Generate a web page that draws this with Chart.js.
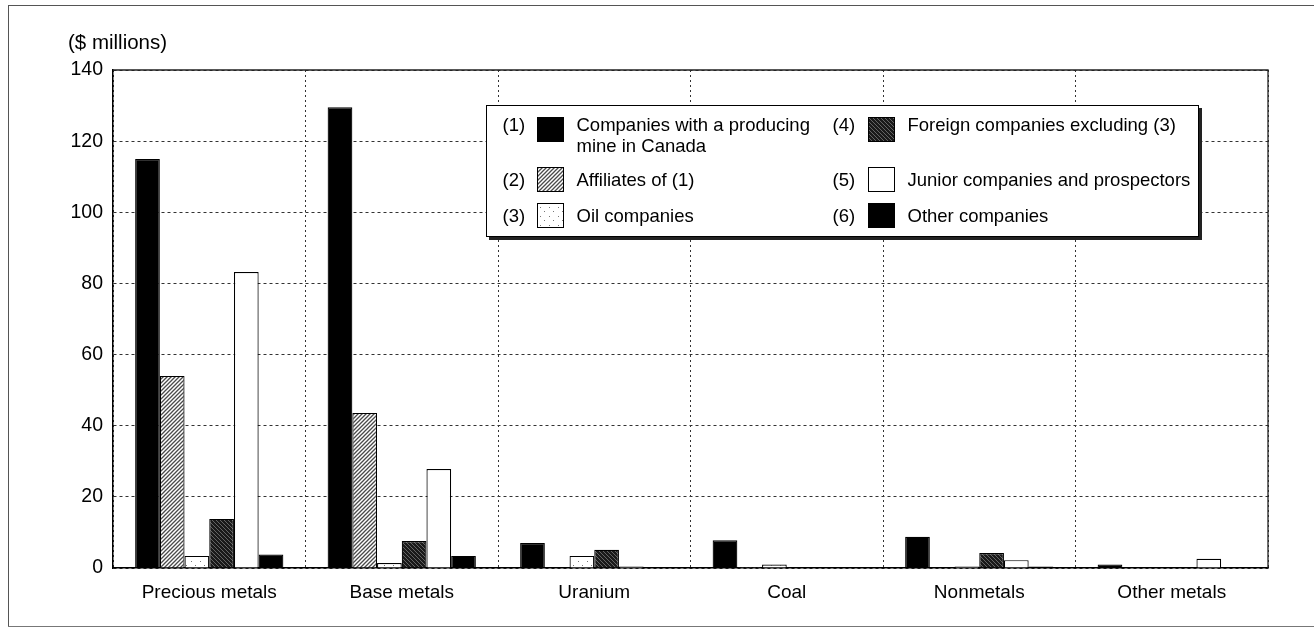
<!DOCTYPE html>
<html><head><meta charset="utf-8">
<script src="https://cdn.jsdelivr.net/npm/chart.js@4"></script>
<style>
html,body{margin:0;padding:0;background:#fff;}
#wrap{position:relative;width:1314px;height:631px;overflow:hidden;font-family:"Liberation Sans",Arial,Helvetica,sans-serif;color:#000;}
#frameT{position:absolute;left:8px;top:5px;width:1306px;height:1px;background:#555;}
#frameL{position:absolute;left:8px;top:5px;width:1px;height:622px;background:#555;}
#frameB{position:absolute;left:8px;top:626px;width:1306px;height:1px;background:#777;}
#c{position:absolute;left:0;top:0;}
#ytitle{position:absolute;left:68px;top:30px;font-size:20.5px;line-height:24px;}
#legend{position:absolute;left:486px;top:105px;width:711px;height:130px;border:1.5px solid #000;background:#fff;box-shadow:3px 3px 0 #222;}
#legend span{position:absolute;font-size:18.5px;line-height:21px;white-space:nowrap;}
#legend canvas{position:absolute;border:1px solid #000;box-sizing:border-box;}
</style></head>
<body>
<div id="wrap">
<canvas id="c" width="1314" height="631"></canvas>
<div id="frameT"></div><div id="frameL"></div><div id="frameB"></div>
<div id="ytitle">($ millions)</div>
<div id="legend"></div>
</div>
<script>
const categories = ['Precious metals','Base metals','Uranium','Coal','Nonmetals','Other metals'];
const producing  = [115, 129.5, 7.0, 7.8, 8.8, 1.0];
const affiliates = [54, 43.6, 0, 0.3, 0, 0];
const oil        = [3.4, 1.4, 3.4, 1.0, 0.4, 0];
const foreign    = [13.8, 7.6, 5.1, 0.2, 4.2, 0];
const junior     = [83.2, 27.8, 0.4, 0.2, 2.2, 2.6];
const other      = [3.8, 3.4, 0, 0.2, 0.4, 0];
const seriesLabels = ['Companies with a producing\nmine in Canada','Affiliates of (1)','Oil companies','Foreign companies excluding (3)','Junior companies and prospectors','Other companies'];
const yTicks = [0,20,40,60,80,100,120,140];

function tile(type){
  const c=document.createElement('canvas'); const s=type==='dots'?9:4;
  c.width=s;c.height=s; const g=c.getContext('2d');
  if(type==='hatch'){
    g.fillStyle='#fff';g.fillRect(0,0,s,s);
    g.strokeStyle='#4a4a4a';g.lineWidth=1.3;
    g.beginPath();g.moveTo(-1,s+1);g.lineTo(s+1,-1);g.moveTo(-1,1);g.lineTo(1,-1);g.moveTo(s-1,s+1);g.lineTo(s+1,s-1);g.stroke();
  } else if(type==='cross'){
    g.fillStyle='#1a1a1a';g.fillRect(0,0,s,s);
    g.strokeStyle='#777';g.lineWidth=0.8;
    g.beginPath();g.moveTo(-1,-1);g.lineTo(s+1,s+1);g.stroke();
  } else if(type==='dots'){
    g.fillStyle='#fff';g.fillRect(0,0,s,s);
    g.fillStyle='#777';g.fillRect(2,3,1,1);g.fillRect(6,7,1,1);
  }
  return c;
}
const ctx=document.getElementById('c').getContext('2d');
const fills=['#000', ctx.createPattern(tile('hatch'),'repeat'), ctx.createPattern(tile('dots'),'repeat'), ctx.createPattern(tile('cross'),'repeat'), '#fff', '#000'];
const tiles=[null,tile('hatch'),tile('dots'),tile('cross'),null,null];
const data=[producing,affiliates,oil,foreign,junior,other];

// legend
const lg=document.getElementById('legend');
const pos=[[0,0],[0,1],[0,2],[1,0],[1,1],[1,2]];
const textTop=[8.2,62.7,98.6];
const swTop=[10.5,60.5,96.5];
pos.forEach((p,i)=>{
  const colX=p[0]?345.5:15.5, swX=p[0]?380.5:49.5, txX=p[0]?420.5:89.5;
  const r=p[1];
  const n=document.createElement('span'); n.textContent='('+(i+1)+')'; n.style.left=colX+'px'; n.style.top=textTop[r]+'px'; lg.appendChild(n);
  const sw=document.createElement('canvas'); sw.width=25; sw.height=23; sw.style.left=swX+'px'; sw.style.top=swTop[r]+'px';
  const sg=sw.getContext('2d'); sg.fillStyle=tiles[i]?sg.createPattern(tiles[i],'repeat'):fills[i]; sg.fillRect(0,0,25,23); lg.appendChild(sw);
  seriesLabels[i].split('\n').forEach((t,k)=>{
    const s=document.createElement('span'); s.textContent=t; s.style.left=txX+'px'; s.style.top=(textTop[r]+k*21)+'px'; lg.appendChild(s);
  });
});

const frame={id:'frame',afterDraw(ch){
  const a=ch.chartArea,g=ch.ctx; g.save(); g.strokeStyle='#222'; g.lineWidth=1.3;
  g.beginPath(); g.moveTo(a.left,a.top); g.lineTo(a.right,a.top); g.lineTo(a.right,a.bottom); g.stroke(); g.restore();
}};

new Chart(ctx,{
  type:'bar',
  data:{labels:categories,datasets:data.map((d,i)=>({label:seriesLabels[i],data:d,backgroundColor:fills[i],borderColor:'#000',borderWidth:1.2,barPercentage:1,categoryPercentage:0.77}))},
  options:{
    responsive:false,animation:false,
    layout:{padding:{left:0,top:70,right:46,bottom:0}},
    plugins:{legend:{display:false},tooltip:{enabled:false}},
    scales:{
      x:{grid:{color:'#333',lineWidth:1,drawTicks:false,offset:true},border:{display:true,color:'#000',width:1.5,dash:[2,3]},
         ticks:{color:'#000',padding:13,font:{family:'"Liberation Sans",Arial,sans-serif',size:19}},
         afterFit(s){s.height=63;}},
      y:{min:0,max:140,afterBuildTicks(s){s.ticks=yTicks.map(v=>({value:v}));},
         grid:{color:'#333',lineWidth:1,drawTicks:false},border:{display:true,color:'#000',width:1.5,dash:[3,3]},
         ticks:{color:'#000',padding:10,font:{family:'"Liberation Sans",Arial,sans-serif',size:19.5}},
         afterFit(s){s.width=113;}}
    }
  },
  plugins:[frame]
});
</script>
</body></html>
